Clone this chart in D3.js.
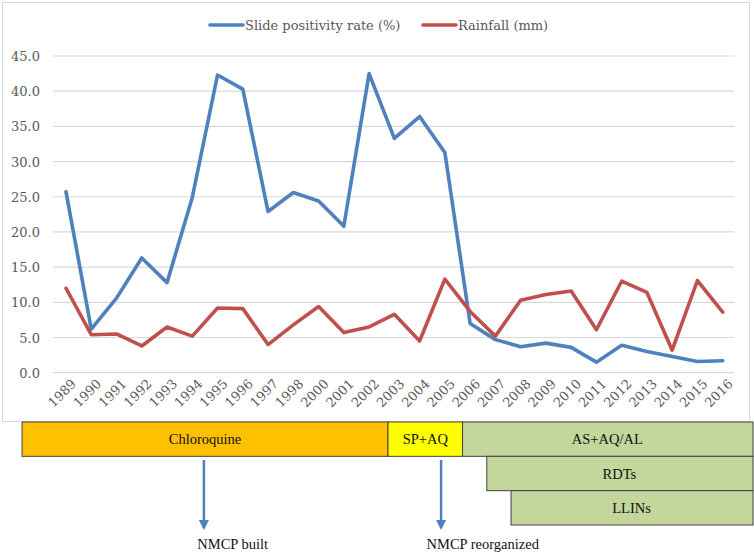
<!DOCTYPE html>
<html>
<head>
<meta charset="utf-8">
<script src="https://cdn.jsdelivr.net/npm/d3@7"></script>
<style>
  html, body { margin: 0; padding: 0; background: #fff; }
  svg { display: block; }
</style>
</head>
<body>
<svg id="chart" width="754" height="554"></svg>
<script>
// ---- data ----
const years = ["1989","1990","1991","1992","1993","1994","1995","1996","1997","1998","2000","2001","2002","2003","2004","2005","2006","2007","2008","2009","2010","2011","2012","2013","2014","2015","2016"];
const slidePositivity = [25.7,6.2,10.6,16.3,12.8,24.9,42.3,40.3,22.9,25.6,24.4,20.8,42.5,33.3,36.4,31.3,7.0,4.7,3.7,4.2,3.6,1.5,3.9,3.0,2.3,1.6,1.7];
const rainfall = [12.0,5.4,5.5,3.8,6.5,5.2,9.2,9.1,4.0,6.8,9.4,5.7,6.5,8.3,4.5,13.3,8.7,5.2,10.3,11.1,11.6,6.1,13.0,11.4,3.2,13.1,8.6];
const yTicks = [0,5,10,15,20,25,30,35,40,45];
const seriesNames = ["Slide positivity rate (%)", "Rainfall (mm)"];
const seriesColors = ["#4F81BD", "#C0504D"];
// timeline bars, in category-index units (0 = 1989, 26 = 2016)
const tlLabels = ["Chloroquine", "SP+AQ", "AS+AQ/AL", "RDTs", "LLINs"];
const tlStart  = [-1.74, 12.75, 15.7, 16.66, 17.62];
const tlEnd    = [12.75, 15.7, 27.2, 27.2, 27.2];
const tlRow    = [0, 0, 0, 1, 2];
const tlColors = ["#FFC000", "#FFFF00", "#C3D69B", "#C3D69B", "#C3D69B"];
// events (arrows)
const eventLabels = ["NMCP built", "NMCP reorganized"];
const eventPos = [5.46, 14.85];
const eventTextPos = [6.6, 16.5];

const svg = d3.select("#chart");

// chart border
svg.append("rect").attr("x", 2.5).attr("y", 2.5).attr("width", 747).attr("height", 419)
  .attr("fill", "#fff").attr("stroke", "#d9d9d9").attr("stroke-width", 1);

const x = d3.scalePoint().domain(years).range([66, 722.7]);
const y = d3.scaleLinear().domain([0, 45]).range([372.7, 56]);

// gridlines
svg.append("g").selectAll("line").data(yTicks).join("line")
  .attr("x1", 53).attr("x2", 734)
  .attr("y1", d => y(d)).attr("y2", d => y(d))
  .attr("stroke", "#d9d9d9").attr("stroke-width", 1.2);

// y axis labels
const yAxis = d3.axisLeft(y).tickValues(yTicks).tickFormat(d3.format(".1f")).tickSize(0).tickPadding(0);
const gy = svg.append("g").attr("transform", "translate(40,0)").call(yAxis);
gy.select(".domain").remove();
gy.selectAll("text").attr("font-family", "'DejaVu Serif', 'Liberation Serif', serif")
  .attr("font-size", 13).attr("fill", "#595959").attr("dy", "0.35em");

// x axis labels
const xAxis = d3.axisBottom(x).tickSize(0).tickPadding(0);
const gx = svg.append("g").attr("transform", "translate(0,380)").call(xAxis);
gx.select(".domain").remove();
gx.selectAll("text")
  .attr("font-family", "'DejaVu Serif', 'Liberation Serif', serif")
  .attr("font-size", 13).attr("fill", "#595959")
  .attr("text-anchor", "end").attr("dy", "0.6em").attr("dx", "0.1em")
  .attr("transform", "translate(4,0) rotate(-45)");

// lines
const line = d3.line().x((d, i) => x(years[i])).y(d => y(d));
[slidePositivity, rainfall].forEach((s, k) => {
  svg.append("path").datum(s).attr("d", line)
    .attr("fill", "none").attr("stroke", seriesColors[k]).attr("stroke-width", 3.6)
    .attr("stroke-linejoin", "round").attr("stroke-linecap", "round");
});

// legend
const legX = [210, 423];
seriesNames.forEach((n, k) => {
  const g = svg.append("g").attr("transform", `translate(${legX[k]},25)`);
  g.append("line").attr("x1", 0).attr("x2", 33).attr("y1", 0).attr("y2", 0)
    .attr("stroke", seriesColors[k]).attr("stroke-width", 3.6).attr("stroke-linecap", "round");
  g.append("text").attr("x", 35).attr("y", 0).attr("dy", "0.35em")
    .attr("font-family", "'DejaVu Serif', 'Liberation Serif', serif")
    .attr("font-size", 13).attr("fill", "#595959").text(n);
});

// timeline
const tl = d3.scaleLinear().domain([0, 26]).range([66, 722.7]);
const row = d3.scaleBand().domain([0, 1, 2]).range([422, 525]).padding(0);
const tg = svg.append("g");
tlLabels.forEach((lab, i) => {
  tg.append("rect")
    .attr("x", tl(tlStart[i])).attr("y", row(tlRow[i]))
    .attr("width", tl(tlEnd[i]) - tl(tlStart[i])).attr("height", row.bandwidth())
    .attr("fill", tlColors[i]).attr("stroke", "#404040").attr("stroke-width", 1);
  tg.append("text")
    .attr("x", (tl(tlStart[i]) + Math.min(tl(tlEnd[i]), 752)) / 2)
    .attr("y", row(tlRow[i]) + row.bandwidth() / 2).attr("dy", "0.35em")
    .attr("text-anchor", "middle")
    .attr("font-family", "'Liberation Serif', 'Times New Roman', serif")
    .attr("font-size", 14.5).attr("fill", "#111").text(lab);
});

// arrows
const defs = svg.append("defs");
defs.append("marker").attr("id", "arrow").attr("viewBox", "0 0 10 10")
  .attr("refX", 8).attr("refY", 5).attr("markerWidth", 4).attr("markerHeight", 4)
  .attr("markerUnits", "strokeWidth").attr("orient", "auto")
  .append("path").attr("d", "M0,0 L10,5 L0,10 Z").attr("fill", "#4F81BD");

eventLabels.forEach((lab, i) => {
  svg.append("line").attr("x1", tl(eventPos[i])).attr("x2", tl(eventPos[i]))
    .attr("y1", 460).attr("y2", 528)
    .attr("stroke", "#4F81BD").attr("stroke-width", 2.5).attr("marker-end", "url(#arrow)");
  svg.append("text").attr("x", tl(eventTextPos[i])).attr("y", 544).attr("dy", "0.35em")
    .attr("text-anchor", "middle")
    .attr("font-family", "'Liberation Serif', 'Times New Roman', serif")
    .attr("font-size", 14.5).attr("fill", "#111").text(lab);
});
</script>
</body>
</html>
